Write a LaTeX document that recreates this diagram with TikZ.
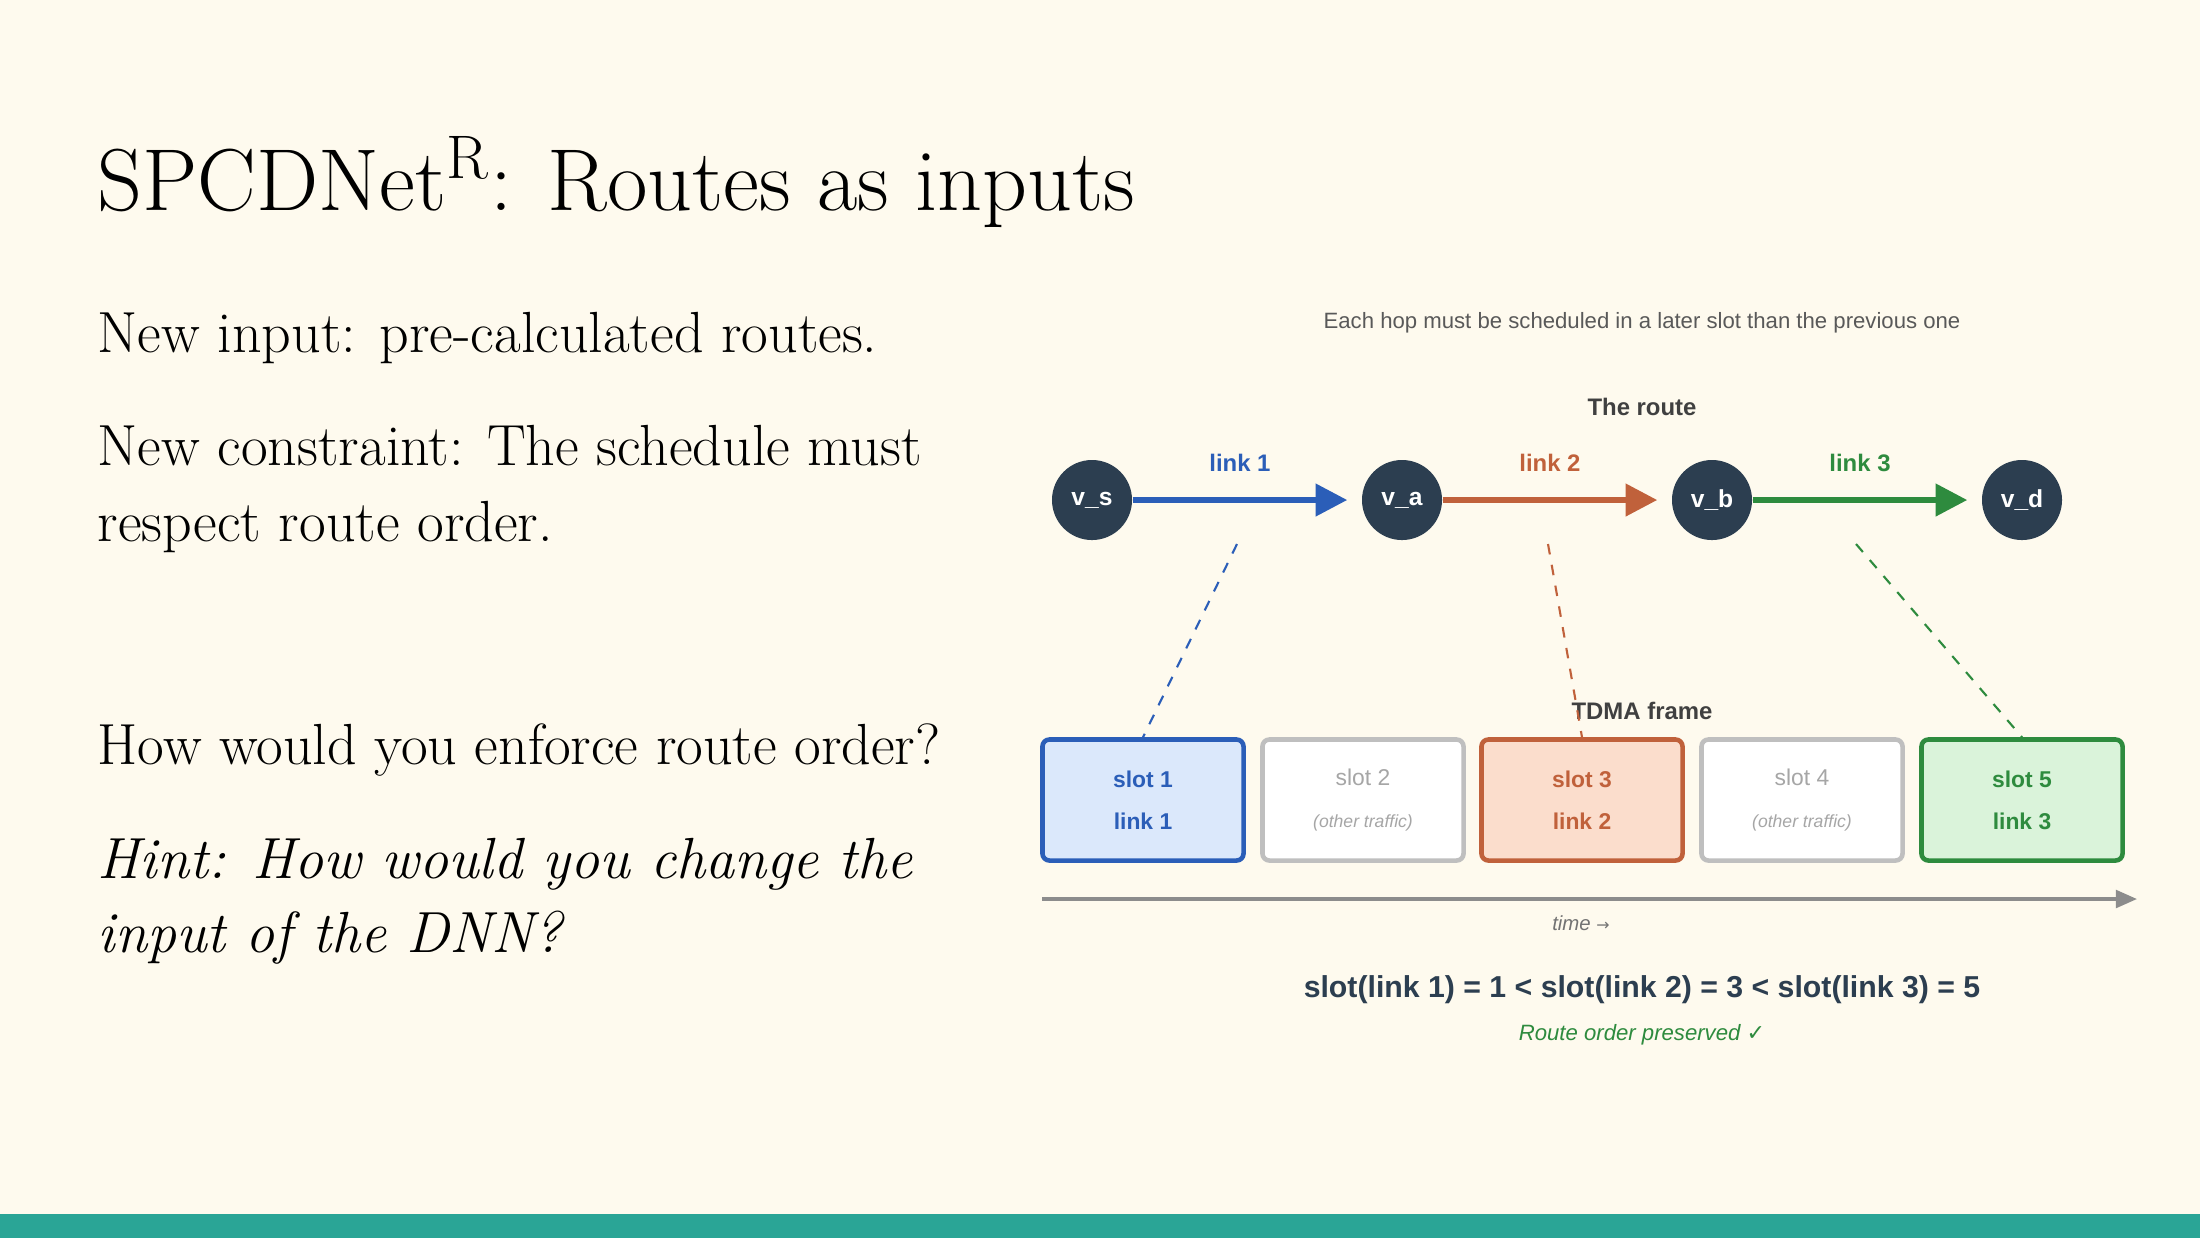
\documentclass[tikz,border=0pt]{standalone}
\usepackage{fontspec}
\setsansfont{Liberation Sans}
\newfontfamily\symfont{DejaVu Sans}
\usepackage{tikz}
\usetikzlibrary{arrows.meta,positioning}
\definecolor{bgcream}{HTML}{FEFAEE}
\definecolor{navy}{HTML}{2C3E50}
\definecolor{lkblue}{HTML}{2B5EB8}
\definecolor{lkorange}{HTML}{C0613B}
\definecolor{lkgreen}{HTML}{2E8B3E}
\definecolor{fillblue}{HTML}{DBE8FB}
\definecolor{fillorange}{HTML}{FBDDCC}
\definecolor{fillgreen}{HTML}{DAF3DA}
\definecolor{teal}{HTML}{2AA596}
\tikzset{
        x=0.01cm, y=-0.01cm, % pixel grid of the slide
        vertex/.style={circle,fill=navy,minimum size=80pt*0.2845,inner sep=0pt,text=white,font=\sffamily\bfseries\fontsize{7}{9}\selectfont},
        link/.style={line width=1.6pt,-{Triangle[length=9pt,width=9pt]}},
        hop/.style={dashed,line width=0.6pt},
        linklabel/.style={font=\sffamily\bfseries\fontsize{6.8}{9}\selectfont},
        slot/.style={draw,rounded corners=2pt,line width=1.3pt,minimum width=201pt*0.2845,minimum height=121pt*0.2845,align=center,font=\sffamily\fontsize{6.5}{12}\selectfont},
        body/.style={anchor=base west,inner sep=0pt,font=\fontsize{16.5}{21}\selectfont},
    }

\begin{document}
\begin{tikzpicture}
    \fill[bgcream] (0,0) rectangle (2200,1238);
    \fill[teal] (0,1214) rectangle (2200,1238);
    \useasboundingbox (0,0) rectangle (2200,1238);

    % left column
    \node[body,font=\fontsize{25}{30}\selectfont] (title) at (97,210) {SPCDNet\textsuperscript{R}: Routes as inputs};
    \node[body] (input) at (97,352) {New input: pre-calculated routes.};
    \node[body] (constr) at (97,465) {New constraint: The schedule must};
    \node[body] (constr2) at (97,541) {respect route order.};
    \node[body] (quest) at (97,764) {How would you enforce route order?};
    \node[body] (hint) at (97,878) {\itshape Hint: How would you change the};
    \node[body] (hint2) at (97,952) {\itshape input of the DNN?};

    % the route
    \node[font=\sffamily\fontsize{6.3}{8}\selectfont,text=black!65] (caption) at (1642,323) {Each hop must be scheduled in a later slot than the previous one};
    \node[linklabel,text=black!75] (route) at (1642,407) {The route};
    \node[vertex] (vs) at (1092,500) {v\_s};
    \node[vertex] (va) at (1402,500) {v\_a};
    \node[vertex] (vb) at (1712,500) {v\_b};
    \node[vertex] (vd) at (2022,500) {v\_d};
    \draw[link,lkblue] (vs) -- ([xshift=-4pt]va.west) node[linklabel,midway,above=4pt] (l1) {link 1};
    \draw[link,lkorange] (va) -- ([xshift=-4pt]vb.west) node[linklabel,midway,above=4pt] (l2) {link 2};
    \draw[link,lkgreen] (vb) -- ([xshift=-4pt]vd.west) node[linklabel,midway,above=4pt] (l3) {link 3};

    % TDMA frame
    \node[linklabel,text=black!75] (frame) at (1642,711) {TDMA frame};
    \node[slot,fill=fillblue,draw=lkblue,text=lkblue] (s1) at (1143,800) {\bfseries slot 1\\\bfseries link 1};
    \node[slot,fill=white,draw=black!25,text=black!35] (s2) at (1363,800) {slot 2\\{\itshape\fontsize{5}{6}\selectfont (other traffic)}};
    \node[slot,fill=fillorange,draw=lkorange,text=lkorange] (s3) at (1582,800) {\bfseries slot 3\\\bfseries link 2};
    \node[slot,fill=white,draw=black!25,text=black!35] (s4) at (1802,800) {slot 4\\{\itshape\fontsize{5}{6}\selectfont (other traffic)}};
    \node[slot,fill=fillgreen,draw=lkgreen,text=lkgreen] (s5) at (2022,800) {\bfseries slot 5\\\bfseries link 3};

    \coordinate (c1) at (1237,544);
    \coordinate (c2) at (1548,544);
    \coordinate (c3) at (1856,544);
    \draw[hop,lkblue] (c1) -- (s1.north);
    \draw[hop,lkorange] (c2) -- (s3.north);
    \draw[hop,lkgreen] (c3) -- (s5.north);

    % time axis
    \coordinate (t0) at (1042,899);
    \coordinate (t1) at (2137,899);
    \draw[black!45,line width=1pt,-{Triangle[length=6pt,width=5pt]}] (t0) -- (t1);
    \node[font=\sffamily\itshape\fontsize{5.8}{7}\selectfont,text=black!55] (time) at (1581,923) {time {\symfont\fontsize{4.5}{5}\selectfont →}};

    \node[font=\sffamily\bfseries\fontsize{8.6}{11}\selectfont,text=navy] (order) at (1642,990) {slot(link 1) = 1 < slot(link 2) = 3 < slot(link 3) = 5};
    \node[font=\sffamily\itshape\fontsize{6.3}{8}\selectfont,text=lkgreen] (ok) at (1642,1035) {Route order preserved {\symfont ✓}};
\end{tikzpicture}
\end{document}
